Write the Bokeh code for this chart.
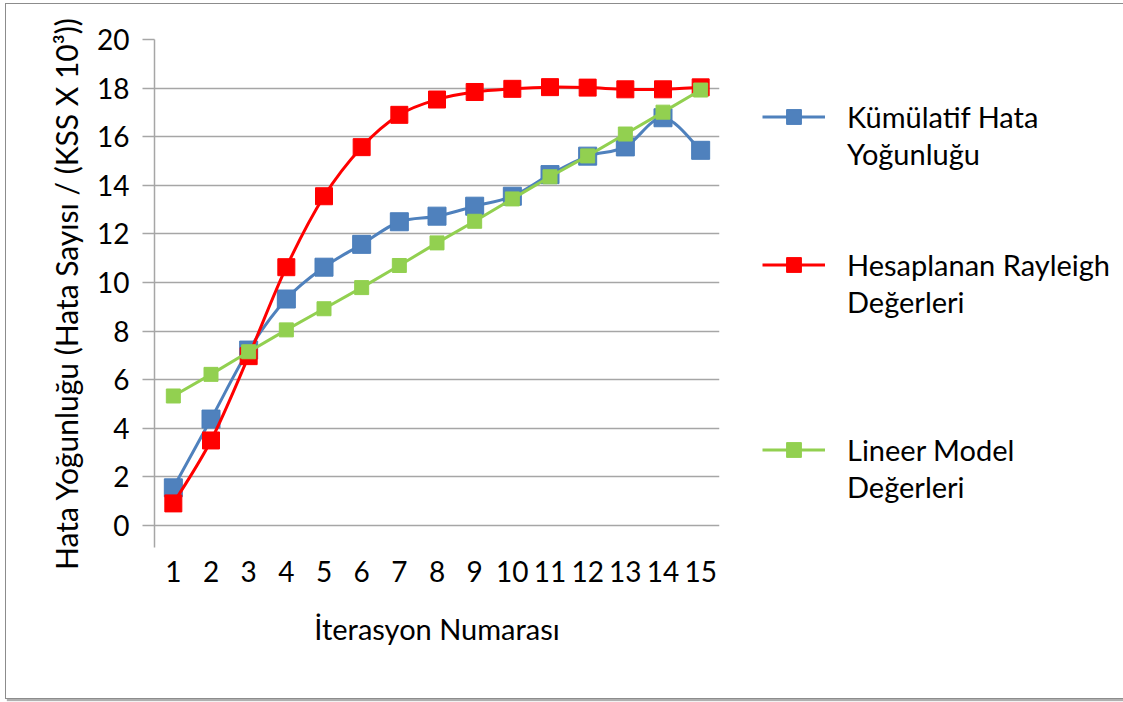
from bokeh.plotting import figure
from bokeh.models import Range1d, FixedTicker, Legend, LegendItem
from bokeh.embed import file_html
from bokeh.resources import INLINE

iterations = list(range(1, 16))
kumulatif = [1.55, 4.38, 7.22, 9.32, 10.63, 11.57, 12.50, 12.73, 13.14, 13.55, 14.44, 15.20, 15.58, 16.78, 15.44]
rayleigh = [0.91, 3.50, 6.97, 10.63, 13.55, 15.57, 16.90, 17.53, 17.84, 17.97, 18.04, 18.02, 17.95, 17.95, 18.03]
lineer = [5.33, 6.22, 7.15, 8.05, 8.92, 9.79, 10.70, 11.63, 12.52, 13.44, 14.35, 15.21, 16.11, 17.01, 17.92]

series_names = [["Kümülatif Hata", "Yoğunluğu"], ["Hesaplanan Rayleigh", "Değerleri"], ["Lineer Model", "Değerleri"]]
y_ticks = list(range(0, 21, 2))

FONT = "Lato"
BLUE = "#4F81BD"
RED = "#FF0000"
GREEN = "#92D050"
GRID = "#A6A6A6"

p = figure(width=1113, height=695, output_backend="svg", toolbar_location=None,
           x_range=Range1d(0.5, 15.5), y_range=Range1d(-0.905, 20),
           frame_width=565, frame_height=508,
           min_border_left=148, min_border_top=35, min_border_right=399, min_border_bottom=151,
           styles={"border": "1px solid #8c8c8c", "box-shadow": "2px 2px 1px #b0b0b0",
                   "margin-left": "5px", "margin-top": "3px"})
p.outline_line_color = None
p.background_fill_color = "white"
p.border_fill_color = "white"

# axes
p.xaxis.ticker = FixedTicker(ticks=iterations)
p.xaxis.axis_line_color = None
p.xaxis.major_tick_line_color = None
p.xaxis.minor_tick_line_color = None
p.xaxis.major_tick_out = 0
p.xaxis.major_label_text_font = FONT
p.xaxis.major_label_text_font_size = "28px"
p.xaxis.major_label_text_color = "black"
p.xaxis.major_label_standoff = 13
p.xaxis.axis_label = "İterasyon Numarası"
p.xaxis.axis_label_text_font = FONT
p.xaxis.axis_label_text_font_size = "29px"
p.xaxis.axis_label_text_font_style = "normal"
p.xaxis.axis_label_text_color = "black"
p.xaxis.axis_label_standoff = 26

p.yaxis.ticker = FixedTicker(ticks=y_ticks)
p.yaxis.axis_line_color = GRID
p.yaxis.axis_line_width = 1.5
p.yaxis.major_tick_line_color = GRID
p.yaxis.major_tick_line_width = 1.5
p.yaxis.major_tick_out = 12
p.yaxis.major_tick_in = 0
p.yaxis.minor_tick_line_color = None
p.yaxis.major_label_text_font = FONT
p.yaxis.major_label_text_font_size = "28px"
p.yaxis.major_label_text_color = "black"
p.yaxis.major_label_standoff = 13
p.yaxis.axis_label = "Hata Yoğunluğu (Hata Sayısı / (KSS X 10³))"
p.yaxis.axis_label_text_font = FONT
p.yaxis.axis_label_text_font_size = "30px"
p.yaxis.axis_label_text_font_style = "normal"
p.yaxis.axis_label_text_color = "black"
p.yaxis.axis_label_standoff = 10

p.xgrid.grid_line_color = None
p.ygrid.grid_line_color = GRID
p.ygrid.grid_line_width = 1.5


def smooth_segments(xs, ys):
    n = len(xs)
    x0, y0, x1, y1, cx0, cy0, cx1, cy1 = [], [], [], [], [], [], [], []
    for i in range(n - 1):
        pxm, pym = (xs[i - 1], ys[i - 1]) if i > 0 else (xs[i], ys[i])
        pxp, pyp = (xs[i + 2], ys[i + 2]) if i + 2 < n else (xs[i + 1], ys[i + 1])
        x0.append(xs[i]); y0.append(ys[i])
        x1.append(xs[i + 1]); y1.append(ys[i + 1])
        cx0.append(xs[i] + (xs[i + 1] - pxm) / 6.0)
        cy0.append(ys[i] + (ys[i + 1] - pym) / 6.0)
        cx1.append(xs[i + 1] - (pxp - xs[i]) / 6.0)
        cy1.append(ys[i + 1] - (pyp - ys[i]) / 6.0)
    return dict(x0=x0, y0=y0, x1=x1, y1=y1, cx0=cx0, cy0=cy0, cx1=cx1, cy1=cy1)


# Kümülatif (smoothed)
s = smooth_segments(iterations, kumulatif)
bl = p.bezier(x0=s["x0"], y0=s["y0"], x1=s["x1"], y1=s["y1"], cx0=s["cx0"], cy0=s["cy0"],
              cx1=s["cx1"], cy1=s["cy1"], line_color=BLUE, line_width=3)
bm = p.scatter(iterations, kumulatif, marker="square", size=18, fill_color=BLUE, line_color="#4A7EBB", line_width=1)

# Rayleigh (smoothed)
s = smooth_segments(iterations, rayleigh)
rl = p.bezier(x0=s["x0"], y0=s["y0"], x1=s["x1"], y1=s["y1"], cx0=s["cx0"], cy0=s["cy0"],
              cx1=s["cx1"], cy1=s["cy1"], line_color=RED, line_width=3)
rm = p.scatter(iterations, rayleigh, marker="square", size=17, fill_color=RED, line_color=RED, line_width=1)

# Lineer (straight)
gl = p.line(iterations, lineer, line_color=GREEN, line_width=3)
gm = p.scatter(iterations, lineer, marker="square", size=14, fill_color=GREEN, line_color=GREEN, line_width=1)

# invisible renderer for text-only legend rows (empty data draws no legend glyph)
blank = p.line(x=[], y=[], line_alpha=0)


def entry(name_lines, renderers):
    rows = [LegendItem(label=name_lines[0], renderers=renderers)]
    for extra in name_lines[1:]:
        rows.append(LegendItem(label=extra, renderers=[blank]))
    return rows


def gap(n):
    return [LegendItem(label=" ", renderers=[blank]) for _ in range(n)]


items = (entry(series_names[0], [bl, bm]) + gap(2) +
         entry(series_names[1], [rl, rm]) + gap(3) +
         entry(series_names[2], [gl, gm]))

legend = Legend(items=items, orientation="vertical")
legend.label_text_font = FONT
legend.label_text_font_size = "29px"
legend.label_text_color = "black"
legend.glyph_width = 63
legend.glyph_height = 37
legend.label_height = 20
legend.label_standoff = 22
legend.spacing = 0
legend.padding = 0
legend.margin = 0
legend.border_line_color = None
legend.background_fill_alpha = 0
p.add_layout(legend, "right")
legend.location = (43, 42)

open("out.html", "w").write(file_html(p, INLINE))
